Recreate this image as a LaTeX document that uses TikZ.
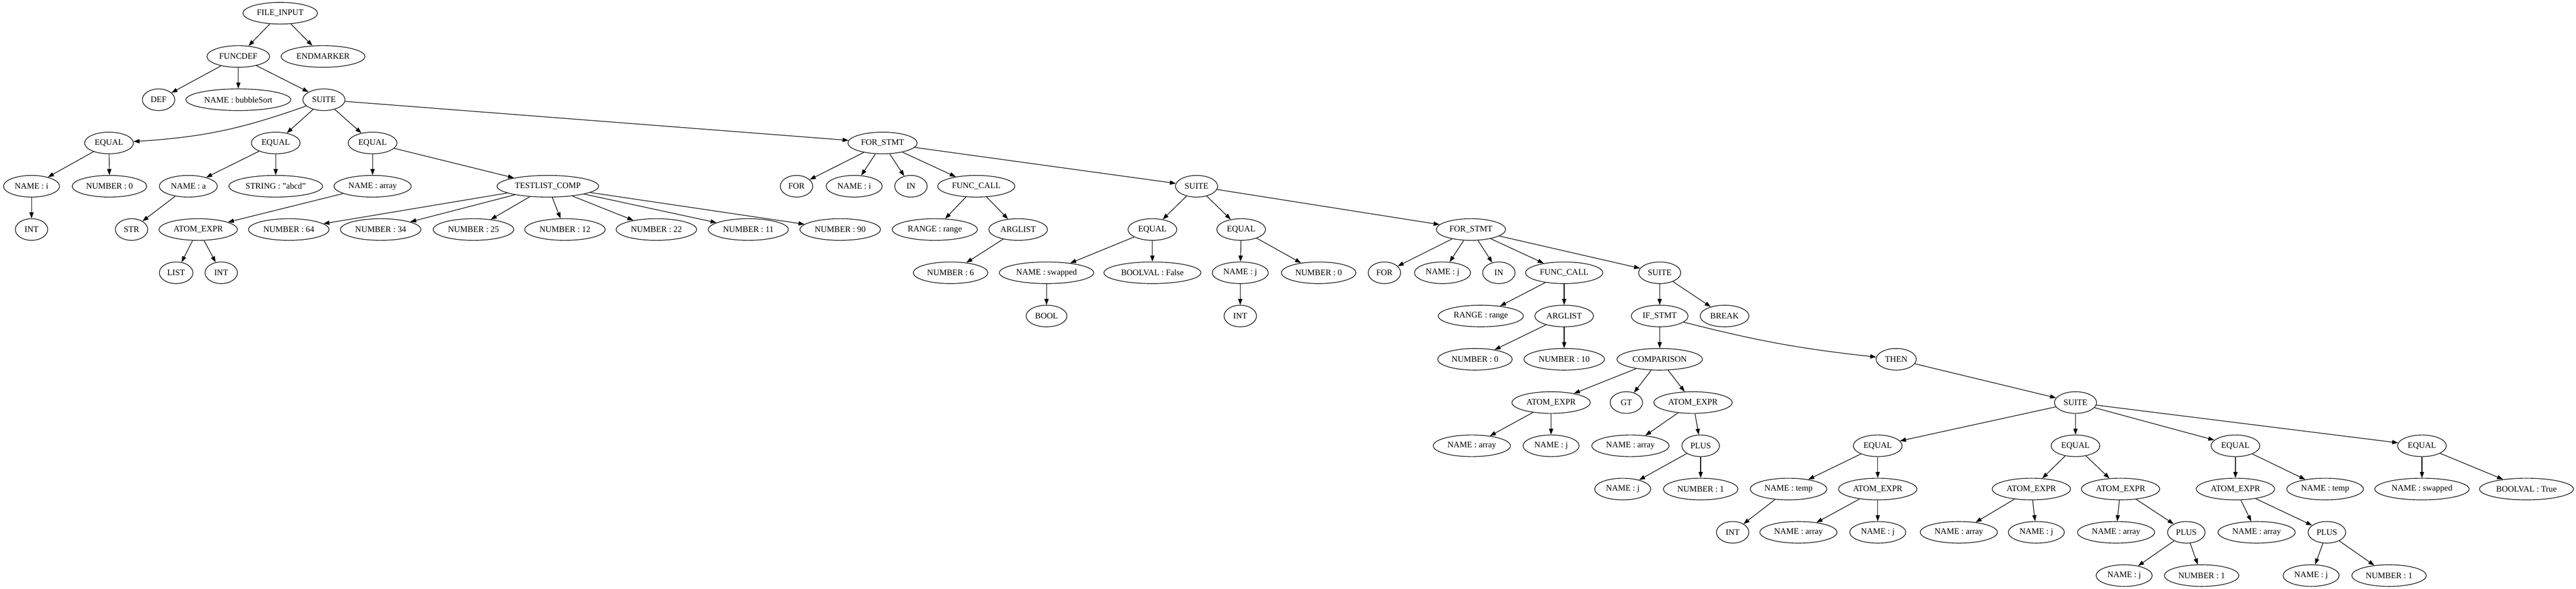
\documentclass[tikz,border=0pt]{standalone}
\usepackage{fontspec}
\setmainfont{Liberation Serif}
\usetikzlibrary{shapes,arrows.meta}

\begin{document}
\begin{tikzpicture}[x=0.75pt, y=-72pt, line width=1pt,
        >={Triangle[length=10pt,width=7pt]},
        ast/.style={ellipse, draw, inner xsep=5pt, inner ysep=2pt, minimum width=54pt, minimum height=36pt, font=\fontsize{14}{16}\selectfont}]
    \useasboundingbox (0,-0.3056) rectangle (5718,13.309);
    \node[ast] (A1) at (622,0) {FILE\_INPUT};
    \node[ast] (B1) at (529,1) {FUNCDEF};
    \draw[->] (A1) -- (B1);
    \node[ast] (B2) at (717,1) {ENDMARKER};
    \draw[->] (A1) -- (B2);
    \node[ast] (C1) at (352,2) {DEF};
    \draw[->] (B1) -- (C1);
    \node[ast] (C2) at (529,2) {NAME : bubbleSort};
    \draw[->] (B1) -- (C2);
    \node[ast] (C3) at (719,2) {SUITE};
    \draw[->] (B1) -- (C3);

    \node[ast] (D1) at (242,3) {EQUAL};
    \draw[->] (C3) to[bend left=8] (D1);
    \node[ast] (D2) at (612,3) {EQUAL};
    \draw[->] (C3) -- (D2);
    \node[ast] (D3) at (827,3) {EQUAL};
    \draw[->] (C3) -- (D3);
    \node[ast] (D4) at (1959,3) {FOR\_STMT};
    \draw[->] (C3) -- (D4);

    \node[ast] (E1) at (70,4) {NAME : i};
    \draw[->] (D1) -- (E1);
    \node[ast] (E2) at (243,4) {NUMBER : 0};
    \draw[->] (D1) -- (E2);
    \node[ast] (E3) at (418,4) {NAME : a};
    \draw[->] (D2) -- (E3);
    \node[ast] (E4) at (612,4) {STRING : "abcd"};
    \draw[->] (D2) -- (E4);
    \node[ast] (E5) at (827,4) {NAME : array};
    \draw[->] (D3) -- (E5);
    \node[ast] (E6) at (1216,4) {TESTLIST\_COMP};
    \draw[->] (D3) -- (E6);
    \node[ast] (E7) at (1768,4) {FOR};
    \draw[->] (D4) -- (E7);
    \node[ast] (E8) at (1896,4) {NAME : i};
    \draw[->] (D4) -- (E8);
    \node[ast] (E9) at (2022,4) {IN};
    \draw[->] (D4) -- (E9);
    \node[ast] (E10) at (2167,4) {FUNC\_CALL};
    \draw[->] (D4) -- (E10);
    \node[ast] (E11) at (2656,4) {SUITE};
    \draw[->] (D4) -- (E11);

    \node[ast] (F1) at (70,5) {INT};
    \draw[->] (E1) -- (F1);
    \node[ast] (F2) at (292,5) {STR};
    \draw[->] (E3) -- (F2);
    \node[ast] (F3) at (440,5) {ATOM\_EXPR};
    \draw[->] (E5) -- (F3);
    \node[ast] (F4) at (641,5) {NUMBER : 64};
    \draw[->] (E6) -- (F4);
    \node[ast] (F5) at (845,5) {NUMBER : 34};
    \draw[->] (E6) -- (F5);
    \node[ast] (F6) at (1051,5) {NUMBER : 25};
    \draw[->] (E6) -- (F6);
    \node[ast] (F7) at (1254,5) {NUMBER : 12};
    \draw[->] (E6) -- (F7);
    \node[ast] (F8) at (1457,5) {NUMBER : 22};
    \draw[->] (E6) -- (F8);
    \node[ast] (F9) at (1661,5) {NUMBER : 11};
    \draw[->] (E6) -- (F9);
    \node[ast] (F10) at (1865,5) {NUMBER : 90};
    \draw[->] (E6) -- (F10);
    \node[ast] (F11) at (2075,5) {RANGE : range};
    \draw[->] (E10) -- (F11);
    \node[ast] (F12) at (2260,5) {ARGLIST};
    \draw[->] (E10) -- (F12);
    \node[ast] (F13) at (2558,5) {EQUAL};
    \draw[->] (E11) -- (F13);
    \node[ast] (F14) at (2755,5) {EQUAL};
    \draw[->] (E11) -- (F14);
    \node[ast] (F15) at (3265,5) {FOR\_STMT};
    \draw[->] (E11) -- (F15);

    \node[ast] (G1) at (391,6) {LIST};
    \draw[->] (F3) -- (G1);
    \node[ast] (G2) at (491,6) {INT};
    \draw[->] (F3) -- (G2);
    \node[ast] (G3) at (2110,6) {NUMBER : 6};
    \draw[->] (F12) -- (G3);
    \node[ast] (G4) at (2323,6) {NAME : swapped};
    \draw[->] (F13) -- (G4);
    \node[ast] (G5) at (2558,6) {BOOLVAL : False};
    \draw[->] (F13) -- (G5);
    \node[ast] (G6) at (2753,6) {NAME : j};
    \draw[->] (F14) -- (G6);
    \node[ast] (G7) at (2927,6) {NUMBER : 0};
    \draw[->] (F14) -- (G7);
    \node[ast] (G8) at (3073,6) {FOR};
    \draw[->] (F15) -- (G8);
    \node[ast] (G9) at (3202,6) {NAME : j};
    \draw[->] (F15) -- (G9);
    \node[ast] (G10) at (3327,6) {IN};
    \draw[->] (F15) -- (G10);
    \node[ast] (G11) at (3472,6) {FUNC\_CALL};
    \draw[->] (F15) -- (G11);
    \node[ast] (G12) at (3684,6) {SUITE};
    \draw[->] (F15) -- (G12);

    \node[ast] (H1) at (2323,7) {BOOL};
    \draw[->] (G4) -- (H1);
    \node[ast] (H2) at (2753,7) {INT};
    \draw[->] (G6) -- (H2);
    \node[ast] (H3) at (3287,7) {RANGE : range};
    \draw[->] (G11) -- (H3);
    \node[ast] (H4) at (3472,7) {ARGLIST};
    \draw[->] (G11) -- (H4);
    \node[ast] (H5) at (3684,7) {IF\_STMT};
    \draw[->] (G12) -- (H5);
    \node[ast] (H6) at (3828,7) {BREAK};
    \draw[->] (G12) -- (H6);

    \node[ast] (I1) at (3274,8) {NUMBER : 0};
    \draw[->] (H4) -- (I1);
    \node[ast] (I2) at (3472,8) {NUMBER : 10};
    \draw[->] (H4) -- (I2);
    \node[ast] (I3) at (3684,8) {COMPARISON};
    \draw[->] (H5) -- (I3);
    \node[ast] (I4) at (4209,8) {THEN};
    \draw[->] (H5) to[bend right=4] (I4);

    \node[ast] (J1) at (3443,9) {ATOM\_EXPR};
    \draw[->] (I3) -- (J1);
    \node[ast] (J2) at (3610,9) {GT};
    \draw[->] (I3) -- (J2);
    \node[ast] (J3) at (3758,9) {ATOM\_EXPR};
    \draw[->] (I3) -- (J3);
    \node[ast] (J4) at (4607,9) {SUITE};
    \draw[->] (I4) -- (J4);

    \node[ast] (K1) at (3267,10) {NAME : array};
    \draw[->] (J1) -- (K1);
    \node[ast] (K2) at (3443,10) {NAME : j};
    \draw[->] (J1) -- (K2);
    \node[ast] (K3) at (3619,10) {NAME : array};
    \draw[->] (J3) -- (K3);
    \node[ast] (K4) at (3775,10) {PLUS};
    \draw[->] (J3) -- (K4);
    \node[ast] (K5) at (4168,10) {EQUAL};
    \draw[->] (J4) -- (K5);
    \node[ast] (K6) at (4607,10) {EQUAL};
    \draw[->] (J4) -- (K6);
    \node[ast] (K7) at (4962,10) {EQUAL};
    \draw[->] (J4) -- (K7);
    \node[ast] (K8) at (5376,10) {EQUAL};
    \draw[->] (J4) -- (K8);

    \node[ast] (L1) at (3602,11) {NAME : j};
    \draw[->] (K4) -- (L1);
    \node[ast] (L2) at (3775,11) {NUMBER : 1};
    \draw[->] (K4) -- (L2);
    \node[ast] (L3) at (3970,11) {NAME : temp};
    \draw[->] (K5) -- (L3);
    \node[ast] (L4) at (4168,11) {ATOM\_EXPR};
    \draw[->] (K5) -- (L4);
    \node[ast] (L5) at (4509,11) {ATOM\_EXPR};
    \draw[->] (K6) -- (L5);
    \node[ast] (L6) at (4707,11) {ATOM\_EXPR};
    \draw[->] (K6) -- (L6);
    \node[ast] (L7) at (4962,11) {ATOM\_EXPR};
    \draw[->] (K7) -- (L7);
    \node[ast] (L8) at (5161,11) {NAME : temp};
    \draw[->] (K7) -- (L8);
    \node[ast] (L9) at (5376,11) {NAME : swapped};
    \draw[->] (K8) -- (L9);
    \node[ast] (L10) at (5608,11) {BOOLVAL : True};
    \draw[->] (K8) -- (L10);

    \node[ast] (M1) at (3846,12) {INT};
    \draw[->] (L3) -- (M1);
    \node[ast] (M2) at (3992,12) {NAME : array};
    \draw[->] (L4) -- (M2);
    \node[ast] (M3) at (4168,12) {NAME : j};
    \draw[->] (L4) -- (M3);
    \node[ast] (M4) at (4348,12) {NAME : array};
    \draw[->] (L5) -- (M4);
    \node[ast] (M5) at (4520,12) {NAME : j};
    \draw[->] (L5) -- (M5);
    \node[ast] (M6) at (4697,12) {NAME : array};
    \draw[->] (L6) -- (M6);
    \node[ast] (M7) at (4853,12) {PLUS};
    \draw[->] (L6) -- (M7);
    \node[ast] (M8) at (5009,12) {NAME : array};
    \draw[->] (L7) -- (M8);
    \node[ast] (M9) at (5165,12) {PLUS};
    \draw[->] (L7) -- (M9);

    \node[ast] (N1) at (4715,13) {NAME : j};
    \draw[->] (M7) -- (N1);
    \node[ast] (N2) at (4887,13) {NUMBER : 1};
    \draw[->] (M7) -- (N2);
    \node[ast] (N3) at (5130,13) {NAME : j};
    \draw[->] (M9) -- (N3);
    \node[ast] (N4) at (5303,13) {NUMBER : 1};
    \draw[->] (M9) -- (N4);
\end{tikzpicture}
\end{document}
